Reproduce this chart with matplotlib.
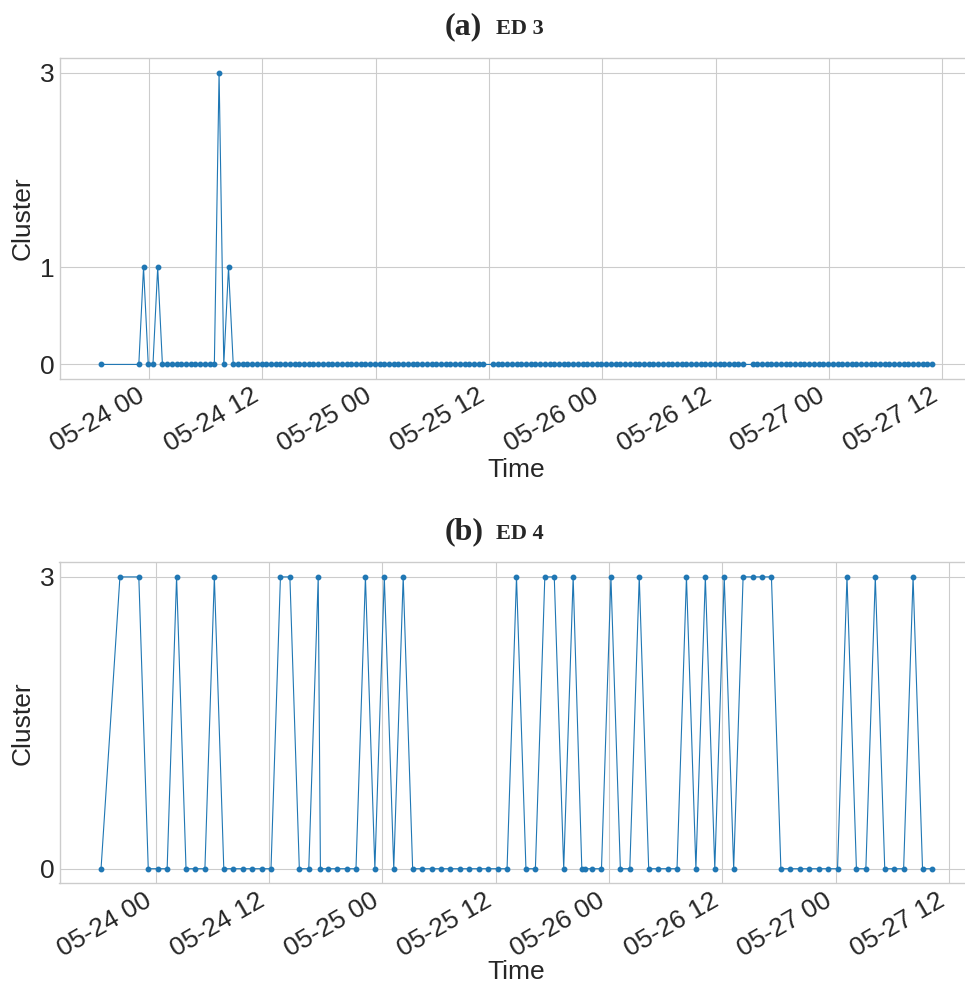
import matplotlib
matplotlib.use('Agg')
import matplotlib.pyplot as plt
import matplotlib.dates as mdates
import pandas as pd

# ED 3: one sample every 30 min starting 05-23 18:55 (None = no sample)
ed3_start = '2023-05-23 18:55'
ed3_cluster = [
    0, None, None, None, None, None, None, None, 0, 1, 0, 0,
    1, 0, 0, 0, 0, 0, 0, 0, 0, 0, 0, 0,
    0, 3, 0, 1, 0, 0, 0, 0, 0, 0, 0, 0,
    0, 0, 0, 0, 0, 0, 0, 0, 0, 0, 0, 0,
    0, 0, 0, 0, 0, 0, 0, 0, 0, 0, 0, 0,
    0, 0, 0, 0, 0, 0, 0, 0, 0, 0, 0, 0,
    0, 0, 0, 0, 0, 0, 0, 0, 0, 0, None, 0,
    0, 0, 0, 0, 0, 0, 0, 0, 0, 0, 0, 0,
    0, 0, 0, 0, 0, 0, 0, 0, 0, 0, 0, 0,
    0, 0, 0, 0, 0, 0, 0, 0, 0, 0, 0, 0,
    0, 0, 0, 0, 0, 0, 0, 0, 0, 0, 0, 0,
    0, 0, 0, 0, 0, None, 0, 0, 0, 0, 0, 0,
    0, 0, 0, 0, 0, 0, 0, 0, 0, 0, 0, 0,
    0, 0, 0, 0, 0, 0, 0, 0, 0, 0, 0, 0,
    0, 0, 0, 0, 0, 0, 0, 0, 0,
]

# ED 4: irregular samples
ed4_time = [
    '2023-05-23 18:12', '2023-05-23 20:12', '2023-05-23 22:12', '2023-05-23 23:12',
    '2023-05-24 00:12', '2023-05-24 01:12', '2023-05-24 02:12', '2023-05-24 03:12',
    '2023-05-24 04:12', '2023-05-24 05:12', '2023-05-24 06:12', '2023-05-24 07:12',
    '2023-05-24 08:12', '2023-05-24 09:12', '2023-05-24 10:12', '2023-05-24 11:12',
    '2023-05-24 12:12', '2023-05-24 13:12', '2023-05-24 14:12', '2023-05-24 15:12',
    '2023-05-24 16:12', '2023-05-24 17:12', '2023-05-24 17:26', '2023-05-24 18:12',
    '2023-05-24 19:12', '2023-05-24 20:12', '2023-05-24 21:12', '2023-05-24 22:12',
    '2023-05-24 23:12', '2023-05-25 00:12', '2023-05-25 01:12', '2023-05-25 02:12',
    '2023-05-25 03:12', '2023-05-25 04:12', '2023-05-25 05:12', '2023-05-25 06:12',
    '2023-05-25 07:12', '2023-05-25 08:12', '2023-05-25 09:12', '2023-05-25 10:12',
    '2023-05-25 11:12', '2023-05-25 12:12', '2023-05-25 13:12', '2023-05-25 14:12',
    '2023-05-25 15:12', '2023-05-25 16:12', '2023-05-25 17:12', '2023-05-25 18:12',
    '2023-05-25 19:12', '2023-05-25 20:12', '2023-05-25 21:07', '2023-05-25 21:27',
    '2023-05-25 22:12', '2023-05-25 23:12', '2023-05-26 00:12', '2023-05-26 01:12',
    '2023-05-26 02:12', '2023-05-26 03:12', '2023-05-26 04:12', '2023-05-26 05:12',
    '2023-05-26 06:12', '2023-05-26 07:12', '2023-05-26 08:12', '2023-05-26 09:12',
    '2023-05-26 10:12', '2023-05-26 11:12', '2023-05-26 12:12', '2023-05-26 13:12',
    '2023-05-26 14:12', '2023-05-26 15:12', '2023-05-26 16:12', '2023-05-26 17:12',
    '2023-05-26 18:12', '2023-05-26 19:12', '2023-05-26 20:12', '2023-05-26 21:12',
    '2023-05-26 22:12', '2023-05-26 23:12', '2023-05-27 00:12', '2023-05-27 01:12',
    '2023-05-27 02:12', '2023-05-27 03:12', '2023-05-27 04:12', '2023-05-27 05:12',
    '2023-05-27 06:12', '2023-05-27 07:12', '2023-05-27 08:12', '2023-05-27 09:12',
    '2023-05-27 10:12',
]
ed4_cluster = [
    0, 3, 3, 0,
    0, 0, 3, 0,
    0, 0, 3, 0,
    0, 0, 0, 0,
    0, 3, 3, 0,
    0, 3, 0, 0,
    0, 0, 0, 3,
    0, 3, 0, 3,
    0, 0, 0, 0,
    0, 0, 0, 0,
    0, 0, 0, 3,
    0, 0, 3, 3,
    0, 3, 0, 0,
    0, 0, 3, 0,
    0, 3, 0, 0,
    0, 0, 3, 0,
    3, 0, 3, 0,
    3, 3, 3, 3,
    0, 0, 0, 0,
    0, 0, 0, 3,
    0, 0, 3, 0,
    0, 0, 3, 0,
    0,
]

ed3 = pd.Series(ed3_cluster, index=pd.date_range(ed3_start, periods=len(ed3_cluster), freq='30min'), dtype=float).dropna()
ed4 = pd.Series(ed4_cluster, index=pd.to_datetime(ed4_time), dtype=float)

plt.style.use('seaborn-v0_8-whitegrid')
plt.rcParams['font.family'] = ['Liberation Sans', 'DejaVu Sans']

fig = plt.figure(figsize=(9.65, 9.83), dpi=100)
W, H = 965.0, 983.0
ax1 = fig.add_axes([59.5 / W, 1 - 379 / H, 914 / W, 320.7 / H])
ax2 = fig.add_axes([59.5 / W, 1 - 883.3 / H, 914 / W, 321 / H])

panels = [(ax1, ed3, '(a)', 'ED 3', 34.3, -0.245), (ax2, ed4, '(b)', 'ED 4', 539.0, -0.238)]
for ax, s, tag, name, ty, ly in panels:
    ax.plot(s.index, s.values, marker='o', markersize=3.2, linewidth=0.8, color='#1f77b4')
    ax.set_yticks(sorted(s.unique()))
    ax.xaxis.set_major_locator(mdates.HourLocator(byhour=[0, 12]))
    ax.xaxis.set_major_formatter(mdates.DateFormatter('%m-%d %H'))
    ax.tick_params(labelsize=19)
    for lab in ax.get_xticklabels():
        lab.set_rotation(30)
        lab.set_ha('right')
    ax.set_xlabel('Time', fontsize=19)
    ax.xaxis.set_label_coords(0.5, ly)
    ax.set_ylabel('Cluster', fontsize=19)
    fig.text(445 / W, 1 - ty / H, tag, fontfamily='Liberation Serif', fontweight='bold',
             fontsize=23, ha='left', va='baseline')
    fig.text(496 / W, 1 - ty / H, name, fontfamily='Liberation Serif', fontweight='bold',
             fontsize=16, ha='left', va='baseline')

fig.savefig('out.png', dpi=100)
